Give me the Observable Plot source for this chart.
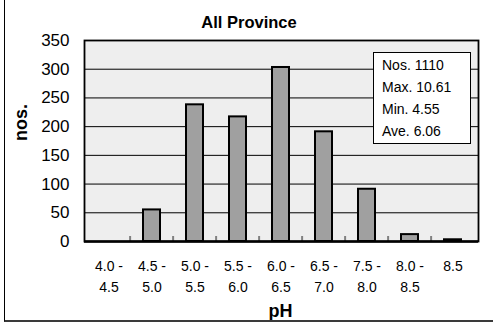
<!DOCTYPE html>
<html>
<head>
<meta charset="utf-8">
<script src="https://cdn.jsdelivr.net/npm/d3@7"></script>
<script src="https://cdn.jsdelivr.net/npm/@observablehq/plot@0.6"></script>
<style>
  html, body { margin: 0; padding: 0; background: #fff; }
  #chart {
    position: relative;
    width: 493px;
    height: 327px;
    overflow: hidden;
    font-family: "Liberation Sans", Arial, sans-serif;
  }
  #chart svg { position: absolute; left: 0; top: 0; }
  /* outer chart border (left and bottom edges visible) */
  #border {
    position: absolute;
    left: 4px;
    top: -10px;
    width: 500px;
    height: 332px;
    box-sizing: border-box;
    border-left: 1.3px solid #000;
    border-bottom: 2px solid #3a3a3a;
  }
  #stats {
    position: absolute;
    left: 373px;
    top: 52px;
    width: 98px;
    height: 92px;
    box-sizing: border-box;
    border: 1.5px solid #000;
    background: #fff;
    padding: 1px 0 0 8px;
    font-size: 14px;
    line-height: 22px;
    color: #000;
  }
</style>
</head>
<body>
<div id="chart"></div>
<script>
// pH classes and number of samples in each
const categories = ["4.0 - 4.5", "4.5 - 5.0", "5.0 - 5.5", "5.5 - 6.0", "6.0 - 6.5",
                    "6.5 - 7.0", "7.5 - 8.0", "8.0 - 8.5", "8.5"];
const counts = [0, 55, 238, 217, 303, 191, 91, 12, 3];
const yTicks = [0, 50, 100, 150, 200, 250, 300, 350];
const statLines = ["Nos. 1110", "Max. 10.61", "Min. 4.55", "Ave. 6.06"];
const title = "All Province";
const xLabel = "pH";
const yLabel = "nos.";

const data = categories.map((c, i) => ({ range: c, n: counts[i] }));

const W = 493, H = 327;
const mL = 84, mR = 15, mT = 40, mB = 86;
const step = (W - mL - mR) / categories.length;
const font = "Liberation Sans, Arial, sans-serif";

const plot = Plot.plot({
  width: W,
  height: H,
  marginLeft: mL,
  marginRight: mR,
  marginTop: mT,
  marginBottom: mB,
  style: { fontFamily: font, color: "#000", background: "transparent" },
  x: { domain: categories, paddingInner: 0.6, paddingOuter: 0.3, label: null },
  y: { domain: [0, 350], label: null },
  marks: [
    Plot.frame({ fill: "#eeeeee", stroke: null }),
    Plot.gridY(yTicks.filter(t => t > 0 && t < 350), { stroke: "#000", strokeOpacity: 1, strokeWidth: 1 }),
    // small ticks on the category boundaries
    Plot.ruleX(categories.slice(1), { x: d => d, y1: 0, y2: 8.7, dx: -step / 2, stroke: "#808080", strokeWidth: 2 }),
    Plot.barY(data, { x: "range", y: "n", fill: "#a0a0a0", stroke: "#000", strokeWidth: 2 }),
    Plot.frame({ stroke: "#000", strokeWidth: 1.8 }),
    Plot.ruleY([0], { stroke: "#000", strokeWidth: 2.5 }),
    Plot.axisY({ ticks: yTicks, tickSize: 0, tickPadding: 15, fontSize: 17, label: null }),
    Plot.axisX({
      tickSize: 0, tickPadding: 15, fontSize: 14, lineHeight: 1.5, label: null,
      tickFormat: d => d.replace(" - ", " -\n")
    }),
    Plot.text([title], { frameAnchor: "top", dx: -32.5, dy: -24, fontSize: 16.5, fontWeight: "bold", letterSpacing: 1.4 }),
    Plot.text([yLabel], { frameAnchor: "left", dx: -63, rotate: -90, fontSize: 18, fontWeight: "bold" }),
    Plot.text([xLabel], { frameAnchor: "bottom", dx: -1, dy: 75, fontSize: 18, fontWeight: "bold" })
  ]
});

const chart = document.getElementById("chart");
chart.appendChild(plot);

const border = document.createElement("div");
border.id = "border";
chart.appendChild(border);

const stats = document.createElement("div");
stats.id = "stats";
stats.innerHTML = statLines.map(s => `<div>${s}</div>`).join("");
chart.appendChild(stats);
</script>
</body>
</html>
